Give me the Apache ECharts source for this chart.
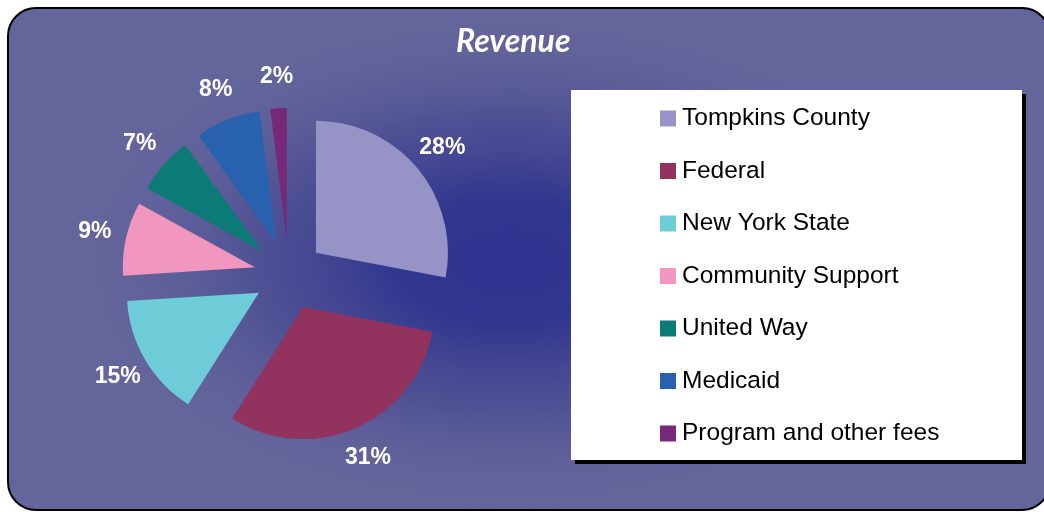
<!DOCTYPE html>
<html>
<head>
<meta charset="utf-8">
<style>
  html, body { margin: 0; padding: 0; background: #fff; }
  #chart { width: 1044px; height: 512px; }
</style>
<script src="https://cdn.jsdelivr.net/npm/echarts@6/dist/echarts.min.js"></script>
</head>
<body>
<div id="chart"></div>
<script>
// revenue sources, clockwise from 12 o'clock
var categories = [
  "Tompkins County",
  "Federal",
  "New York State",
  "Community Support",
  "United Way",
  "Medicaid",
  "Program and other fees"
];
var shares = [28, 31, 15, 9, 7, 8, 2];

var palette = ["#9693c6", "#92325f", "#6ecbd8", "#f197bf", "#0c7a77", "#2862ae", "#772877"];

var myChart = echarts.init(document.getElementById("chart"));

var pieData = categories.map(function (name, i) {
  return { name: name, value: shares[i], selected: true };
});
// same values, used only to place the % labels on a ring around the pie
var labelData = categories.map(function (name, i) {
  return { name: name, value: shares[i] };
});

var option = {
  animation: false,
  color: palette,
  title: {
    text: "Revenue",
    left: 451,
    top: 21,
    textStyle: {
      color: "#fff",
      fontFamily: "Lato",
      fontStyle: "italic",
      fontWeight: "bold",
      fontSize: 32
    }
  },
  graphic: [
    {
      // frame
      type: "rect",
      z: -10,
      shape: { x: 8, y: 8, width: 1042, height: 502, r: 28 },
      style: { fill: "#64659b", stroke: "#000", lineWidth: 2 }
    },
    {
      // dark glow in the middle
      type: "circle",
      z: -9,
      x: 510,
      y: 262,
      scaleX: 1.75,
      shape: { cx: 0, cy: 0, r: 250 },
      style: {
        fill: {
          type: "radial", x: 0.5, y: 0.5, r: 0.5,
          colorStops: [
            { offset: 0, color: "#2e3490" },
            { offset: 0.25, color: "#31368f" },
            { offset: 0.6, color: "rgba(72,74,145,0.7)" },
            { offset: 1, color: "rgba(100,101,155,0)" }
          ]
        }
      }
    },
    {
      // legend box
      type: "rect",
      z: -5,
      shape: { x: 571, y: 90, width: 451, height: 370 },
      style: {
        fill: "#fff",
        shadowColor: "#000",
        shadowBlur: 0,
        shadowOffsetX: 4,
        shadowOffsetY: 4
      }
    }
  ],
  legend: {
    orient: "vertical",
    left: 660,
    top: 106,
    padding: 0,
    icon: "rect",
    itemWidth: 16,
    itemHeight: 16,
    itemGap: 27.5,
    data: categories,
    textStyle: {
      color: "#000",
      fontFamily: "Liberation Sans",
      fontSize: 24.5,
      lineHeight: 25,
      padding: [0, 0, 0, 1]
    }
  },
  series: [
    {
      type: "pie",
      center: [289, 275],
      radius: 132,
      startAngle: 90,
      clockwise: true,
      selectedMode: "multiple",
      selectedOffset: 35,
      label: { show: false },
      labelLine: { show: false },
      itemStyle: { borderWidth: 0 },
      emphasis: { disabled: true },
      data: pieData
    },
    {
      type: "pie",
      center: [289, 275],
      radius: [180, 212],
      startAngle: 90,
      clockwise: true,
      silent: true,
      legendHoverLink: false,
      itemStyle: { color: "rgba(0,0,0,0)", borderWidth: 0 },
      label: {
        show: true,
        position: "inside",
        formatter: "{c}%",
        color: "#fff",
        fontFamily: "Liberation Sans",
        fontWeight: "bold",
        fontSize: 23
      },
      labelLine: { show: false },
      emphasis: { disabled: true },
      data: labelData
    }
  ]
};

myChart.setOption(option);
window.addEventListener("resize", function () {
  myChart.resize();
});
</script>
</body>
</html>
